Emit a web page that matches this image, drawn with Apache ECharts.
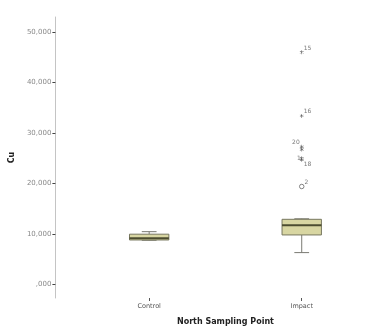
<!DOCTYPE html>
<html>
<head>
<meta charset="utf-8">
<script src="https://cdn.jsdelivr.net/npm/echarts@6/dist/echarts.min.js"></script>
<style>
  html, body { margin: 0; padding: 0; background: #fff; }
  #chart { width: 378px; height: 333px; }
</style>
</head>
<body>
<div id="chart"></div>
<script>
// Sampling points on the x axis
const categories = ['Control', 'Impact'];
// Five-number summaries per point: [lower whisker, Q1, median, Q3, upper whisker]
const control = [8750, 8800, 9150, 9950, 10450];
const impact = [6300, 9800, 11700, 12900, 13000];
// Outlying cases (Impact): case ids, Cu values, and kind (extreme "*" or mild "o")
const outlierIds = ['15', '16', '20', '8', '1', '18', '2'];
const outlierValues = [46000, 33400, 27300, 26750, 25000, 24700, 19400];
const outlierKinds = ['extreme', 'extreme', 'extreme', 'extreme', 'extreme', 'extreme', 'mild'];
// Y-axis tick values
const yTicks = [0, 10000, 20000, 30000, 40000, 50000];

// label placement for each case id (styling only)
const labelPlace = {
  '15': { position: 'right', offset: [-1, -4] },
  '16': { position: 'right', offset: [-1, -4] },
  '20': { position: 'left', offset: [1, -4] },
  '8': { show: false },
  '1': { position: 'left', offset: [2, 0] },
  '18': { position: 'right', offset: [-1, 5] },
  '2': { position: 'right', offset: [-1, -4] }
};

const asterisk = 'path://M4.3,0H5.7V10H4.3Z M0.3,3.1L1,1.9L9.7,6.9L9,8.1Z M1,8.1L0.3,6.9L9,1.9L9.7,3.1Z';

const boxData = [[0].concat(control), [1].concat(impact)];
const outlierData = outlierValues.map((v, i) => ({
  name: outlierIds[i],
  value: [1, v],
  symbol: outlierKinds[i] === 'extreme' ? asterisk : 'circle',
  symbolSize: outlierKinds[i] === 'extreme' ? 4 : 4.5,
  itemStyle: outlierKinds[i] === 'extreme'
    ? { color: '#444' }
    : { color: '#fff', borderColor: '#666', borderWidth: 1 },
  label: Object.assign({ show: true }, labelPlace[outlierIds[i]])
}));

const BOX_RATIO = 40 / 155;
const CAP_RATIO = 15 / 155;

function renderBox(params, api) {
  const cat = api.value(0);
  const band = api.size([1, 0])[0];
  const half = band * BOX_RATIO / 2;
  const cap = band * CAP_RATIO / 2;
  const pMin = api.coord([cat, api.value(1)]);
  const pQ1 = api.coord([cat, api.value(2)]);
  const pMed = api.coord([cat, api.value(3)]);
  const pQ3 = api.coord([cat, api.value(4)]);
  const pMax = api.coord([cat, api.value(5)]);
  const cx = pMed[0];
  const lineStyle = { stroke: '#7a7a72', lineWidth: 1 };
  return {
    type: 'group',
    children: [
      { type: 'line', shape: { x1: cx, y1: pQ1[1], x2: cx, y2: pMin[1] }, style: lineStyle },
      { type: 'line', shape: { x1: cx, y1: pQ3[1], x2: cx, y2: pMax[1] }, style: lineStyle },
      { type: 'line', shape: { x1: cx - cap, y1: pMin[1], x2: cx + cap, y2: pMin[1] }, style: lineStyle },
      { type: 'line', shape: { x1: cx - cap, y1: pMax[1], x2: cx + cap, y2: pMax[1] }, style: lineStyle },
      {
        type: 'rect',
        shape: { x: cx - half, y: pQ3[1], width: half * 2, height: pQ1[1] - pQ3[1] },
        style: { fill: '#d8d6a2', stroke: '#77775f', lineWidth: 1 }
      },
      {
        type: 'line',
        shape: { x1: cx - half, y1: pMed[1], x2: cx + half, y2: pMed[1] },
        style: { stroke: '#4c4c30', lineWidth: 2 }
      }
    ]
  };
}

const chart = echarts.init(document.getElementById('chart'), null, { renderer: 'canvas' });
chart.setOption({
  animation: false,
  backgroundColor: '#fff',
  textStyle: { fontFamily: 'DejaVu Sans' },
  grid: { left: 72.5, right: -4.5, top: 17, bottom: 35 },
  xAxis: {
    type: 'category',
    data: categories,
    boundaryGap: true,
    axisLine: { show: false, onZero: false },
    axisTick: { show: true, alignWithLabel: true, length: 3, lineStyle: { color: '#555' } },
    axisLabel: { color: '#555', fontSize: 6.5, margin: 5 },
    splitLine: { show: false },
    name: 'North Sampling Point',
    nameLocation: 'middle',
    nameGap: 20,
    nameTextStyle: { fontSize: 8, fontWeight: 'bold', color: '#222' }
  },
  yAxis: {
    type: 'value',
    min: -2700,
    max: 53000,
    offset: 17.5,
    axisLine: { show: true, lineStyle: { color: '#c4c4c4', width: 1 } },
    axisTick: { show: true, length: 3, customValues: yTicks, lineStyle: { color: '#444' } },
    axisLabel: {
      customValues: yTicks,
      color: '#888',
      fontSize: 7,
      margin: 4,
      formatter: v => v === 0 ? ',000' : v.toLocaleString('en-US')
    },
    splitLine: { show: false },
    name: 'Cu',
    nameLocation: 'middle',
    nameGap: 33,
    nameTextStyle: { fontSize: 8, fontWeight: 'bold', color: '#222' }
  },
  series: [
    {
      type: 'custom',
      renderItem: renderBox,
      encode: { x: 0, y: [1, 2, 3, 4, 5] },
      data: boxData,
      z: 2
    },
    {
      type: 'scatter',
      data: outlierData,
      z: 3,
      label: {
        formatter: p => p.name,
        fontSize: 6,
        color: '#555',
        distance: 1
      }
    }
  ]
});
</script>
</body>
</html>
